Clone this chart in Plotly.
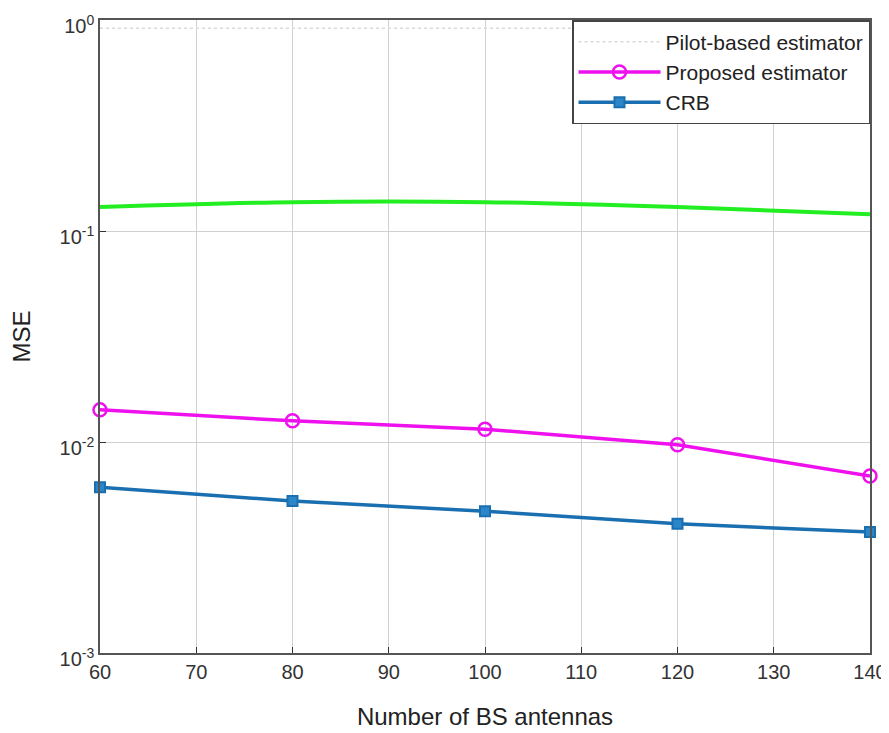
import plotly.graph_objects as go

x_vals = [60, 80, 100, 120, 140]
pilot_x = [60, 70, 80, 90, 100, 110, 120, 130, 140]
pilot_mse = [0.915, 0.915, 0.915, 0.915, 0.915, 0.915, 0.915, 0.915, 0.915]
green_mse = [0.130, 0.137, 0.137, 0.130, 0.120]
proposed_mse = [0.0142, 0.0126, 0.0115, 0.0097, 0.0069]
crb_mse = [0.0061, 0.00525, 0.0047, 0.0041, 0.00374]

x_ticks = [60, 70, 80, 90, 100, 110, 120, 130, 140]
y_ticks = [0.001, 0.01, 0.1, 1]
y_ticktext = ["10<sup>-3</sup>", "10<sup>-2</sup>", "10<sup>-1</sup>", "10<sup>0</sup>"]

fig = go.Figure()
fig.add_trace(go.Scatter(x=pilot_x, y=pilot_mse, mode="lines", name="Pilot-based estimator",
                         line=dict(color="#d9d9d9", width=1.5, dash="dot")))
fig.add_trace(go.Scatter(x=x_vals, y=green_mse, mode="lines", showlegend=False,
                         line=dict(color="#22ee22", width=4, shape="spline")))
fig.add_trace(go.Scatter(x=x_vals, y=proposed_mse, mode="lines+markers", name="Proposed estimator",
                         line=dict(color="#ee11ee", width=3.5),
                         marker=dict(symbol="circle-open", size=13, color="#ee11ee", line=dict(width=2.5)),
                         cliponaxis=False))
fig.add_trace(go.Scatter(x=x_vals, y=crb_mse, mode="lines+markers", name="CRB",
                         line=dict(color="#1a6fb0", width=3.5),
                         marker=dict(symbol="square", size=10, color="#2a86c8", line=dict(width=2, color="#1a6fb0")),
                         cliponaxis=False))

axis_common = dict(showline=True, linecolor="#555555", linewidth=1.5, mirror=True,
                   showgrid=True, gridcolor="#d0d0d0", gridwidth=1, ticks="inside",
                   ticklen=6, tickcolor="#333333", zeroline=False, automargin=False,
                   ticklabeloverflow="allow",
                   tickfont=dict(family="Liberation Sans", size=20, color="#333333"))

fig.update_xaxes(range=[60, 140], tickvals=x_ticks, **axis_common,
                 title=dict(text="Number of BS antennas", font=dict(family="Liberation Sans", size=24, color="#222222"), standoff=26))
fig.update_yaxes(type="log", range=[-3, 0], tickvals=y_ticks, ticktext=y_ticktext, **axis_common,
                 ticklabelshift=6,
                 title=dict(text="MSE", font=dict(family="Liberation Sans", size=24, color="#222222"), standoff=30))

fig.update_layout(
    width=881, height=725,
    margin=dict(l=92, r=19, t=12, b=80),
    paper_bgcolor="white", plot_bgcolor="white",
    legend=dict(x=1, y=1, xanchor="right", yanchor="top", bgcolor="white",
                bordercolor="#444444", borderwidth=1.5, itemwidth=82,
                font=dict(family="Liberation Sans", size=21, color="#222222"),
                tracegroupgap=0),
    showlegend=True,
)

fig.write_html("out.html")
